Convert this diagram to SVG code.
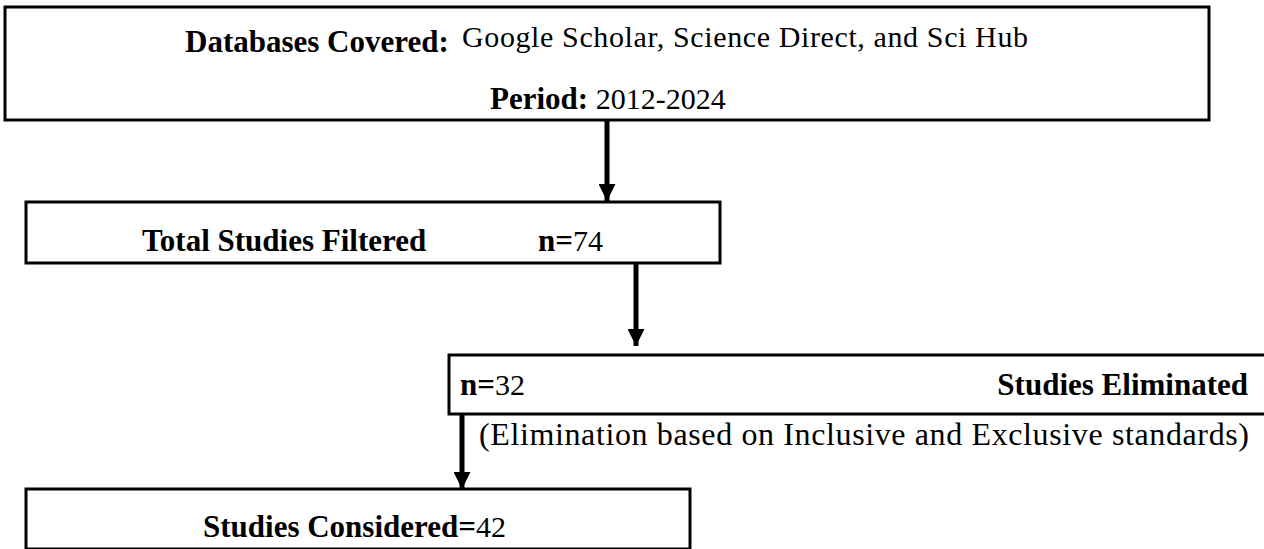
<svg xmlns="http://www.w3.org/2000/svg" width="1264" height="549" viewBox="0 0 1264 549">
<style>
.box{fill:#fff;stroke:#000;stroke-width:3}
.t{font-family:"Liberation Serif","Times New Roman",serif;fill:#000}
.b{font-weight:bold;font-size:31px}
.r{font-weight:normal;font-size:30px}
.c{stroke:#000;stroke-width:5;fill:none}
</style>
<defs>
<marker id="ah" markerUnits="userSpaceOnUse" markerWidth="18" markerHeight="17" refX="17" refY="8.5" orient="auto">
<path d="M0,0 L17,8.5 L0,17 Z" fill="#000"/>
</marker>
</defs>
<rect width="1264" height="549" fill="#fff"/>
<g id="connectors">
<line class="c" x1="607" y1="121" x2="607" y2="201" marker-end="url(#ah)"/>
<line class="c" x1="636" y1="264" x2="636" y2="346" marker-end="url(#ah)"/>
<line class="c" x1="462" y1="415" x2="462" y2="489" marker-end="url(#ah)"/>
</g>
<g id="node-databases">
<rect class="box" x="5" y="7" width="1204" height="113"/>
<text class="t b" x="185" y="52">Databases Covered:</text>
<text class="t r" x="462" y="47" textLength="566" lengthAdjust="spacing">Google Scholar, Science Direct, and Sci Hub</text>
<text class="t" y="109" x="490"><tspan class="b">Period:</tspan><tspan class="r"> 2012-2024</tspan></text>
</g>
<g id="node-filtered">
<rect class="box" x="26" y="202" width="694" height="61"/>
<text class="t b" x="142" y="251">Total Studies Filtered</text>
<text class="t" x="538" y="251"><tspan class="b">n=</tspan><tspan class="r">74</tspan></text>
</g>
<g id="node-eliminated">
<rect class="box" x="449" y="355" width="830" height="59"/>
<text class="t" x="460" y="395"><tspan class="b">n=</tspan><tspan class="r">32</tspan></text>
<text class="t b" x="1248" y="395" text-anchor="end">Studies Eliminated</text>
</g>
<text id="label-elimination" class="t" style="font-size:32px" x="479" y="445" textLength="770" lengthAdjust="spacing">(Elimination based on Inclusive and Exclusive standards)</text>
<g id="node-considered">
<rect class="box" x="26" y="489" width="664" height="60"/>
<text class="t" x="203" y="537"><tspan class="b">Studies Considered=</tspan><tspan class="r">42</tspan></text>
</g>
</svg>
